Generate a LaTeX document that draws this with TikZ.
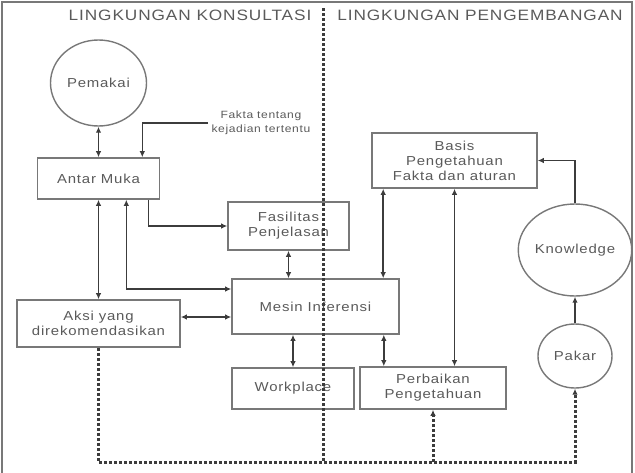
\documentclass[tikz,border=0pt]{standalone}
\usepackage{fontspec}
\setmainfont{Liberation Sans}[LetterSpace=6,FakeStretch=1.15]
\usepackage{tikz}
\usetikzlibrary{arrows.meta,calc,shapes.geometric}
\definecolor{frame}{RGB}{120,120,120}
\definecolor{ink}{RGB}{60,60,60}
\definecolor{label}{RGB}{90,90,90}

\begin{document}
\begin{tikzpicture}[x=1pt,y=-1pt,>={Latex[length=6pt,width=5.5pt]},
  every node/.style={font=\fontsize{13}{15}\selectfont,align=center,text=label},
  box/.style={draw=frame,line width=1.6pt,inner sep=0pt},
  blob/.style={draw=frame,line width=1.4pt,ellipse,inner sep=0pt},
  link/.style={draw=ink,line width=1.6pt},
  bus/.style={draw=ink,line width=3pt,dash pattern=on 3pt off 2pt}]
  \useasboundingbox (0,0) rectangle (635,472);
  \draw[frame,line width=1.6pt] (2,2) rectangle (632,476);
  \node[font=\fontsize{15}{17}\selectfont] (konsul) at (190,15) {LINGKUNGAN KONSULTASI};
  \node[font=\fontsize{15}{17}\selectfont] (kembang) at (480,15) {LINGKUNGAN PENGEMBANGAN};

  % lingkungan konsultasi
  \node[blob,minimum width=96pt,minimum height=86pt] (pemakai) at (98.5,83) {Pemakai};
  \node[box,minimum width=122pt,minimum height=41pt] (antar) at (98.5,178.5) {Antar Muka};
  \node[font=\fontsize{10.5}{14}\selectfont,anchor=west] (fakta) at (208,123) {Fakta tentang\\kejadian tertentu};
  \node[box,minimum width=121pt,minimum height=48pt] (fasilitas) at (288.5,226) {Fasilitas\\Penjelasan};
  \node[box,minimum width=167pt,minimum height=55pt] (mesin) at (315.5,306.5) {Mesin Inferensi};
  \node[box,minimum width=163pt,minimum height=47pt] (aksi) at (98.5,323.5) {Aksi yang\\direkomendasikan};
  \node[box,minimum width=122pt,minimum height=41pt] (workplace) at (293,388.5) {Workplace};

  % lingkungan pengembangan
  \node[box,minimum width=165pt,minimum height=55pt] (basis) at (454.5,160.5) {Basis\\Pengetahuan\\Fakta dan aturan};
  \node[box,minimum width=146pt,minimum height=42pt] (perbaikan) at (433,388) {Perbaikan\\Pengetahuan};
  \node[blob,minimum width=104pt,minimum height=92pt] (knowledge) at (575,250) {Knowledge};
  \node[blob,minimum width=74pt,minimum height=64pt] (pakar) at (575,356) {Pakar};

  \coordinate (divtop) at (323.5,8);
  \coordinate (bottom) at (0,462);

  \draw[link,<->] (pemakai.south) -- (antar.north);
  \draw[link,->] (fakta.west) -| ([xshift=-18pt]antar.north east);
  \draw[link,<->] (antar.south) -- (aksi.north);
  \draw[link,<->] ([xshift=-34pt]antar.south east) |- ([yshift=17.5pt]mesin.west);
  \draw[link,->] ([xshift=-12pt]antar.south east) |- (fasilitas.west);
  \draw[link,<->] (fasilitas.south) -- (fasilitas.south |- mesin.north);
  \draw[link,<->] ([yshift=-10.5pt]mesin.west) -- ([yshift=-10.5pt]mesin.west -| aksi.east);
  \draw[link,<->] (workplace.north |- mesin.south) -- (workplace.north);
  \draw[link,<->] ([xshift=-16pt]mesin.south east) -- ([xshift=-16pt]mesin.south east |- perbaikan.north);
  \draw[link,<->] ([xshift=12pt]basis.south west) -- ([xshift=12pt]basis.south west |- mesin.north);
  \draw[link,<->] (basis.south) -- (basis.south |- perbaikan.north);
  \draw[link,->] (knowledge.north) |- (basis.east);
  \draw[link,->] (pakar.north) -- (knowledge.south);

  \draw[bus] (divtop) -- (divtop |- bottom);
  \draw[bus,->] (aksi.south) |- (bottom -| pakar.south) -- (pakar.south);
  \draw[bus,->] (perbaikan.south |- bottom) -- (perbaikan.south);
\end{tikzpicture}
\end{document}
